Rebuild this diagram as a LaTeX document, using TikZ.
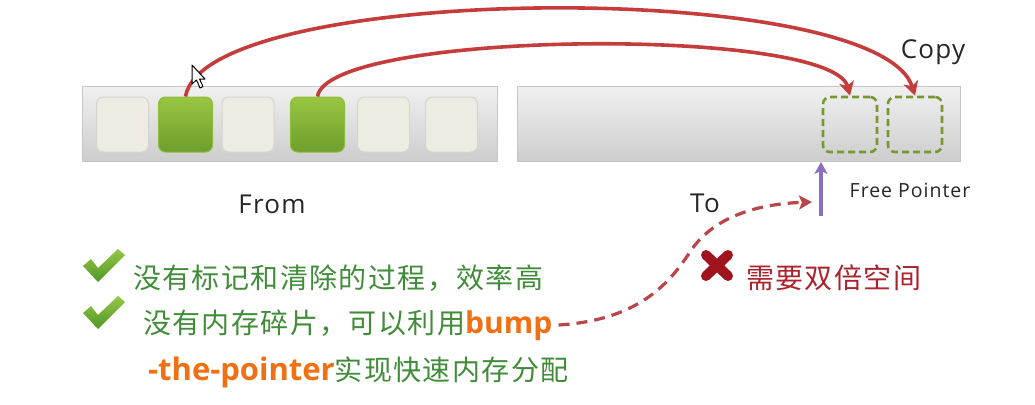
\documentclass[tikz,border=0pt]{standalone}
\usepackage{fontspec}
\setmainfont{Open Sans}
\newfontfamily\lab{Open Sans}[LetterSpace=5]
\newfontfamily\cjk{Noto Sans CJK SC}[LetterSpace=5]
\newfontfamily\bfont{Open Sans}
\usetikzlibrary{arrows.meta}
\definecolor{txtgreen}{RGB}{64,140,56}
\definecolor{bumporange}{RGB}{240,112,20}
\definecolor{xredtxt}{RGB}{170,35,45}
\definecolor{arrowred}{RGB}{196,60,60}
\definecolor{dashred}{RGB}{185,70,75}
\definecolor{fpurple}{RGB}{140,110,190}
\definecolor{dgreen}{RGB}{120,150,50}
\definecolor{gtop}{RGB}{152,198,66}
\definecolor{gbot}{RGB}{110,158,44}
\definecolor{gborder}{RGB}{140,190,60}
\definecolor{lbox}{RGB}{238,236,226}
\definecolor{lborder}{RGB}{214,212,204}
\definecolor{bartop}{RGB}{240,240,240}
\definecolor{barbot}{RGB}{205,205,205}
\definecolor{barborder}{RGB}{198,198,198}
\definecolor{ctop}{RGB}{150,200,70}
\definecolor{cbot}{RGB}{80,150,40}
\definecolor{xdark}{RGB}{160,20,30}
\begin{document}
\begin{tikzpicture}[x=1pt,y=-1pt,
  membar/.style={rectangle,draw=barborder,line width=0.8pt,top color=bartop,bottom color=barbot,inner sep=0pt},
  freebox/.style={rectangle,rounded corners=7pt,draw=lborder,line width=1pt,fill=lbox,minimum width=52pt,minimum height=55pt,inner sep=0pt},
  livebox/.style={rectangle,rounded corners=7pt,draw=gborder,line width=1pt,top color=gtop,bottom color=gbot,minimum width=54pt,minimum height=55pt,inner sep=0pt},
  copybox/.style={rectangle,rounded corners=7pt,draw=dgreen,line width=2.6pt,dash pattern=on 7pt off 4pt,minimum width=54pt,minimum height=55pt,inner sep=0pt},
  copyarrow/.style={draw=arrowred,line width=3.6pt,-{Stealth[length=14pt,width=15pt,inset=4pt]}},
  lbl/.style={font=\lab\fontsize{26}{28}\selectfont,text=black!85,inner sep=0pt},
  cn/.style={font=\cjk\fontsize{28}{32}\selectfont,anchor=west,inner sep=0pt},
  bumptxt/.style={},
]
\useasboundingbox[fill=white] (0,0) rectangle (1035,404);

% From space
\node[membar,minimum width=415pt,minimum height=75pt] (from) at (289.5,124) {};
\node[freebox] (b1) at (122.5,124.5) {};
\node[livebox] (b2) at (185.5,124.5) {};
\node[freebox] (b3) at (248,124.5) {};
\node[livebox] (b4) at (317.5,124.5) {};
\node[freebox] (b5) at (383.5,124.5) {};
\node[freebox] (b6) at (451.5,124.5) {};

% To space
\node[membar,minimum width=443pt,minimum height=75pt] (to) at (738.5,124) {};
\node[copybox] (c1) at (850,124.5) {};
\node[copybox] (c2) at (915,124.5) {};

% copy arrows
\draw[copyarrow] (b2.north) .. controls (205,-18) and (878,-22) .. (c2.north);
\draw[copyarrow] (b4.north) .. controls (328,30) and (832,26) .. (c1.north);

% mouse cursor
\filldraw[fill=white,draw=black,line width=1pt,line join=round]
  (192,65) -- (192,84) -- (196.5,80) -- (200,88) -- (203,86.5) -- (199.5,79) -- (205,79) -- cycle;

% labels
\node[lbl] (fromlbl) at (272,204) {From};
\node[lbl] (tolbl) at (705,203) {To};
\node[lbl] (copylbl) at (933,52) {Copy};
\node[lbl,font=\lab\fontsize{19.5}{21}\selectfont] (fplbl) at (910,190) {Free Pointer};

% free pointer arrow
\coordinate (fpbase) at (821,216);
\draw[draw=fpurple,line width=3.6pt,-{Stealth[length=12pt,width=13pt,inset=3pt]}] (fpbase) -- (fpbase |- to.south);

% check marks
\foreach \dy in {0,47}{
  \shade[top color=ctop,bottom color=cbot,yshift=-\dy pt,line join=round]
    (83,266) -- (91,259) -- (98,268) -- (118,249) -- (125,255) -- (98,282) -- cycle;
}

% red cross
\draw[xdark,line width=10pt,line cap=round] (706,255) -- (728,276) (728,255) -- (706,276);

% texts
\node[cn,text=txtgreen] (t1) at (133,278) {没有标记和清除的过程，效率高};
\node[cn,text=txtgreen] (t2) at (143,325) {没有内存碎片，可以利用{\bfont\bfseries\fontsize{30}{32}\selectfont\color{bumporange}bump}};
\node[cn,text=txtgreen] (t3) at (148,372) {{\bfont\bfseries\fontsize{31}{32}\selectfont\color{bumporange}-the-pointer}实现快速内存分配};
\node[cn,text=xredtxt] (t4) at (746,278) {需要双倍空间};

% dashed link
\coordinate (dtip) at (812,202);
\draw[draw=dashred,line width=3.2pt,dash pattern=on 11pt off 7pt,-{Stealth[length=13pt,width=14pt,inset=3pt]}]
  ([xshift=6pt]t2.east) .. controls (640,320) and (670,282) .. (690,252)
  .. controls (712,218) and (755,204) .. (dtip);
\end{tikzpicture}
\end{document}
